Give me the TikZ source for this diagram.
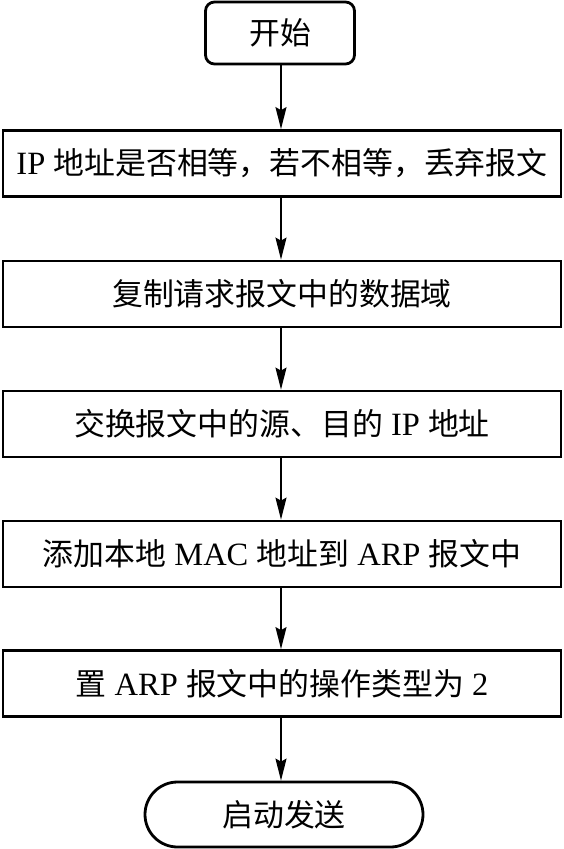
\documentclass[tikz,border=0pt]{standalone}
\usepackage{fontspec}
\setmainfont{Liberation Serif}
\newfontfamily\cjk{Noto Sans CJK SC}[Scale=0.95]
\usetikzlibrary{arrows.meta,shapes.misc}
\begin{document}
\begin{tikzpicture}[x=1pt,y=1pt,
  box/.style={draw,line width=2.8pt,minimum width=558pt,minimum height=66pt,inner sep=0pt,font=\fontsize{32.5}{36}\selectfont},
  startbox/.style={draw,line width=2.8pt,rounded corners=9pt,minimum width=149pt,minimum height=62pt,inner sep=0pt,font=\fontsize{32.5}{36}\selectfont},
  endbox/.style={draw,line width=2.8pt,rounded rectangle,minimum width=278pt,minimum height=65pt,inner sep=0pt,font=\fontsize{32.5}{36}\selectfont},
  arr/.style={line width=1.6pt,-{Stealth[length=22pt,width=11pt,inset=3pt]}}]
\useasboundingbox (0,0) rectangle (563,-849);
\node[startbox] (s) at (280,-33) {\cjk 开始};
\node[box] (b1) at (282,-163.5) {IP {\cjk 地址是否相等，若不相等，丢弃报文}};
\node[box] (b2) at (282,-294) {\cjk 复制请求报文中的数据域};
\node[box] (b3) at (282,-424) {{\cjk 交换报文中的源、目的} IP {\cjk 地址}};
\node[box] (b4) at (282,-554) {{\cjk 添加本地} MAC {\cjk 地址到} ARP {\cjk 报文中}};
\node[box] (b5) at (282,-683.5) {{\cjk 置} ARP {\cjk 报文中的操作类型为} 2};
\node[endbox] (e) at (284,-814.5) {\cjk 启动发送};
\coordinate (ax) at (281,0);
\draw[arr] (ax |- s.south) -- (ax |- b1.north);
\draw[arr] (ax |- b1.south) -- (ax |- b2.north);
\draw[arr] (ax |- b2.south) -- (ax |- b3.north);
\draw[arr] (ax |- b3.south) -- (ax |- b4.north);
\draw[arr] (ax |- b4.south) -- (ax |- b5.north);
\draw[arr] (ax |- b5.south) -- (ax |- e.north);
\end{tikzpicture}
\end{document}
